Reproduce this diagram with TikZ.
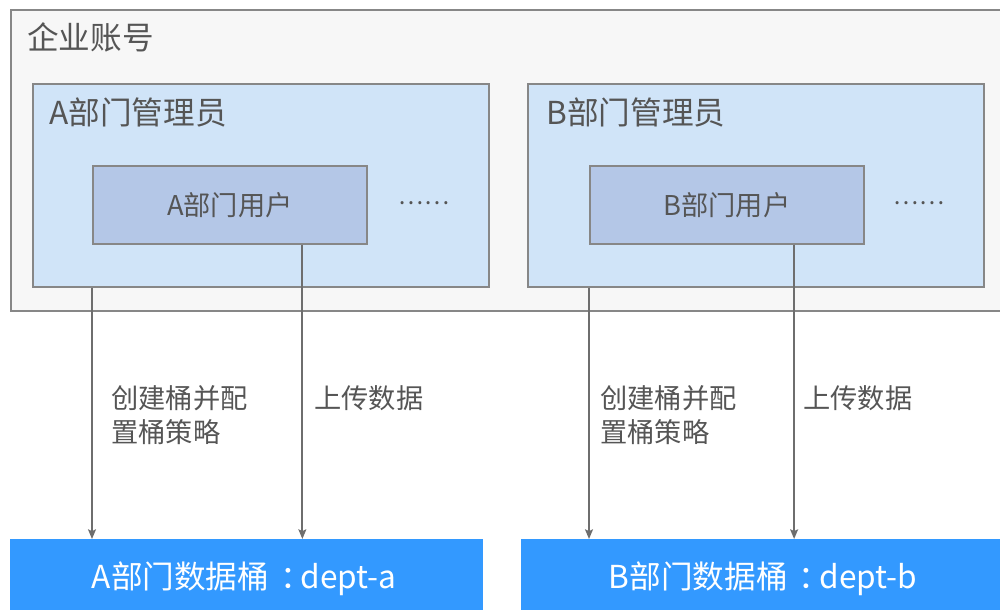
\documentclass[tikz,border=0pt]{standalone}
\usepackage{fontspec}
\setmainfont{Noto Sans CJK SC}
\usepackage{tikz}
\usetikzlibrary{arrows.meta, positioning, calc}
\definecolor{accountgray}{HTML}{F7F7F7}
\definecolor{framegray}{HTML}{878787}
\definecolor{adminblue}{HTML}{D0E4F8}
\definecolor{userblue}{HTML}{B4C7E7}
\definecolor{bucketblue}{HTML}{3399FF}
\definecolor{textgray}{HTML}{555555}
\definecolor{arrowgray}{HTML}{6E6E6E}
\newcommand{\fwcolon}{\hspace{0.35em}：\hspace{-0.35em}}

\begin{document}
\begin{tikzpicture}[x=0.02cm, y=-0.02cm]
    \tikzstyle{every node} = [font=\fontsize{18}{22}\selectfont, text=textgray, inner sep=0pt]
    \tikzstyle{frame} = [draw=framegray, line width=1pt, rectangle, anchor=north west]
    \tikzstyle{admin} = [frame, fill=adminblue, minimum width=9.12cm, minimum height=4.06cm]
    \tikzstyle{user} = [frame, fill=userblue, minimum width=5.48cm, minimum height=1.56cm, font=\fontsize{15.5}{19}\selectfont]
    \tikzstyle{bucket} = [rectangle, fill=bucketblue, anchor=north west, minimum height=1.56cm, text width=6.2cm, inner xsep=1.62cm, align=flush left, text=white]
    \tikzstyle{note} = [font=\fontsize{15.5}{19.3}\selectfont, align=left, anchor=west]
    \tikzstyle{arrow} = [-{Stealth[length=5.5pt, width=4.5pt, inset=1pt]}, draw=arrowgray, line width=1pt]
    \clip (0,0) rectangle (1000,609);

    % place nodes
    \node[frame, fill=accountgray, minimum width=20.1cm, minimum height=6.02cm](account) at (10,9) {};
    \node[anchor=west](accountLabel) at (27,37) {企业账号};

    \node[admin](adminA) at (32,83) {};
    \node[anchor=west](adminALabel) at (49,112) {A部门管理员};
    \node[user](userA) at (92,165) {A部门用户};
    \node[font=\fontsize{13.5}{16}\selectfont](moreA) at (424,203) {……};

    \node[admin](adminB) at (527,83) {};
    \node[anchor=west](adminBLabel) at (546,112) {B部门管理员};
    \node[user](userB) at (589,165) {B部门用户};
    \node[font=\fontsize{13.5}{16}\selectfont](moreB) at (919,203) {……};

    \node[bucket, minimum width=9.46cm](bucketA) at (10,539) {A部门数据桶\fwcolon dept-a};
    \node[bucket, minimum width=9.7cm](bucketB) at (521,539) {B部门数据桶\fwcolon dept-b};

    % Connections
    \coordinate (upA) at ($(userA.south west)!0.763!(userA.south east)$);
    \coordinate (upB) at ($(userB.south west)!0.744!(userB.south east)$);
    \draw[arrow]
    (userA.south west |- adminA.south)--(userA.south west |- bucketA.north);
    \draw[arrow]
    (upA)--(upA |- bucketA.north);
    \draw[arrow]
    (userB.south west |- adminB.south)--(userB.south west |- bucketB.north);
    \draw[arrow]
    (upB)--(upB |- bucketB.north);

    % labels on the connections
    \node[note](createA) at (111,415) {创建桶并配\\置桶策略};
    \node[note](uploadA) at (314,398) {上传数据};
    \node[note](createB) at (600,415) {创建桶并配\\置桶策略};
    \node[note](uploadB) at (803,398) {上传数据};
\end{tikzpicture}
\end{document}
